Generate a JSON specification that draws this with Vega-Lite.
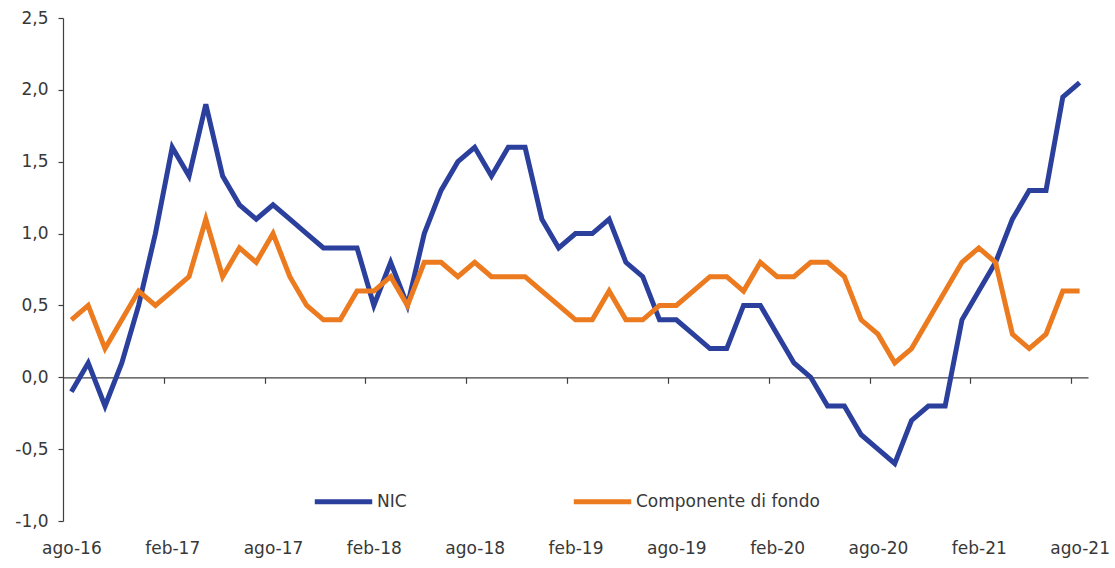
{
  "$schema": "https://vega.github.io/schema/vega-lite/v6.json",
  "width": 1025,
  "height": 503,
  "autosize": {"type": "none"},
  "padding": {"left": 63, "top": 18, "right": 27, "bottom": 47},
  "background": "white",
  "config": {
    "locale": {"number": {"decimal": ",", "thousands": ".", "grouping": [3], "currency": ["€", ""], "minus": "-"}},
    "view": {"stroke": null},
    "axis": {"labelFont": "DejaVu Sans", "labelFontSize": 17, "labelColor": "#383838", "domainColor": "#404040", "tickColor": "#404040", "domainWidth": 1.2, "tickWidth": 1.2, "grid": false, "title": null}
  },
  "data": {"values": [
    {"i": 0, "mese": "ago-16", "NIC": -0.1, "fondo": 0.4},
    {"i": 1, "mese": "set-16", "NIC": 0.1, "fondo": 0.5},
    {"i": 2, "mese": "ott-16", "NIC": -0.2, "fondo": 0.2},
    {"i": 3, "mese": "nov-16", "NIC": 0.1, "fondo": 0.4},
    {"i": 4, "mese": "dic-16", "NIC": 0.5, "fondo": 0.6},
    {"i": 5, "mese": "gen-17", "NIC": 1.0, "fondo": 0.5},
    {"i": 6, "mese": "feb-17", "NIC": 1.6, "fondo": 0.6},
    {"i": 7, "mese": "mar-17", "NIC": 1.4, "fondo": 0.7},
    {"i": 8, "mese": "apr-17", "NIC": 1.9, "fondo": 1.1},
    {"i": 9, "mese": "mag-17", "NIC": 1.4, "fondo": 0.7},
    {"i": 10, "mese": "giu-17", "NIC": 1.2, "fondo": 0.9},
    {"i": 11, "mese": "lug-17", "NIC": 1.1, "fondo": 0.8},
    {"i": 12, "mese": "ago-17", "NIC": 1.2, "fondo": 1.0},
    {"i": 13, "mese": "set-17", "NIC": 1.1, "fondo": 0.7},
    {"i": 14, "mese": "ott-17", "NIC": 1.0, "fondo": 0.5},
    {"i": 15, "mese": "nov-17", "NIC": 0.9, "fondo": 0.4},
    {"i": 16, "mese": "dic-17", "NIC": 0.9, "fondo": 0.4},
    {"i": 17, "mese": "gen-18", "NIC": 0.9, "fondo": 0.6},
    {"i": 18, "mese": "feb-18", "NIC": 0.5, "fondo": 0.6},
    {"i": 19, "mese": "mar-18", "NIC": 0.8, "fondo": 0.7},
    {"i": 20, "mese": "apr-18", "NIC": 0.5, "fondo": 0.5},
    {"i": 21, "mese": "mag-18", "NIC": 1.0, "fondo": 0.8},
    {"i": 22, "mese": "giu-18", "NIC": 1.3, "fondo": 0.8},
    {"i": 23, "mese": "lug-18", "NIC": 1.5, "fondo": 0.7},
    {"i": 24, "mese": "ago-18", "NIC": 1.6, "fondo": 0.8},
    {"i": 25, "mese": "set-18", "NIC": 1.4, "fondo": 0.7},
    {"i": 26, "mese": "ott-18", "NIC": 1.6, "fondo": 0.7},
    {"i": 27, "mese": "nov-18", "NIC": 1.6, "fondo": 0.7},
    {"i": 28, "mese": "dic-18", "NIC": 1.1, "fondo": 0.6},
    {"i": 29, "mese": "gen-19", "NIC": 0.9, "fondo": 0.5},
    {"i": 30, "mese": "feb-19", "NIC": 1.0, "fondo": 0.4},
    {"i": 31, "mese": "mar-19", "NIC": 1.0, "fondo": 0.4},
    {"i": 32, "mese": "apr-19", "NIC": 1.1, "fondo": 0.6},
    {"i": 33, "mese": "mag-19", "NIC": 0.8, "fondo": 0.4},
    {"i": 34, "mese": "giu-19", "NIC": 0.7, "fondo": 0.4},
    {"i": 35, "mese": "lug-19", "NIC": 0.4, "fondo": 0.5},
    {"i": 36, "mese": "ago-19", "NIC": 0.4, "fondo": 0.5},
    {"i": 37, "mese": "set-19", "NIC": 0.3, "fondo": 0.6},
    {"i": 38, "mese": "ott-19", "NIC": 0.2, "fondo": 0.7},
    {"i": 39, "mese": "nov-19", "NIC": 0.2, "fondo": 0.7},
    {"i": 40, "mese": "dic-19", "NIC": 0.5, "fondo": 0.6},
    {"i": 41, "mese": "gen-20", "NIC": 0.5, "fondo": 0.8},
    {"i": 42, "mese": "feb-20", "NIC": 0.3, "fondo": 0.7},
    {"i": 43, "mese": "mar-20", "NIC": 0.1, "fondo": 0.7},
    {"i": 44, "mese": "apr-20", "NIC": 0.0, "fondo": 0.8},
    {"i": 45, "mese": "mag-20", "NIC": -0.2, "fondo": 0.8},
    {"i": 46, "mese": "giu-20", "NIC": -0.2, "fondo": 0.7},
    {"i": 47, "mese": "lug-20", "NIC": -0.4, "fondo": 0.4},
    {"i": 48, "mese": "ago-20", "NIC": -0.5, "fondo": 0.3},
    {"i": 49, "mese": "set-20", "NIC": -0.6, "fondo": 0.1},
    {"i": 50, "mese": "ott-20", "NIC": -0.3, "fondo": 0.2},
    {"i": 51, "mese": "nov-20", "NIC": -0.2, "fondo": 0.4},
    {"i": 52, "mese": "dic-20", "NIC": -0.2, "fondo": 0.6},
    {"i": 53, "mese": "gen-21", "NIC": 0.4, "fondo": 0.8},
    {"i": 54, "mese": "feb-21", "NIC": 0.6, "fondo": 0.9},
    {"i": 55, "mese": "mar-21", "NIC": 0.8, "fondo": 0.8},
    {"i": 56, "mese": "apr-21", "NIC": 1.1, "fondo": 0.3},
    {"i": 57, "mese": "mag-21", "NIC": 1.3, "fondo": 0.2},
    {"i": 58, "mese": "giu-21", "NIC": 1.3, "fondo": 0.3},
    {"i": 59, "mese": "lug-21", "NIC": 1.95, "fondo": 0.6},
    {"i": 60, "mese": "ago-21", "NIC": 2.05, "fondo": 0.6}
  ]},
  "resolve": {"axis": {"x": "independent"}},
  "layer": [
    {
      "mark": {"type": "line", "strokeWidth": 5},
      "encoding": {
        "x": {"field": "i", "type": "quantitative",
          "scale": {"domain": [-0.5, 60.5], "nice": false, "zero": false},
          "axis": {"orient": "bottom", "values": [0, 6, 12, 18, 24, 30, 36, 42, 48, 54, 60],
            "labelExpr": "['ago-16','feb-17','ago-17','feb-18','ago-18','feb-19','ago-19','feb-20','ago-20','feb-21','ago-21'][round(datum.value/6)]",
            "ticks": false, "domain": false, "labelPadding": 19, "labelFlush": false, "labelOverlap": false}},
        "y": {"field": "NIC", "type": "quantitative",
          "scale": {"domain": [-1, 2.5], "nice": false, "zero": false},
          "axis": {"values": [-1, -0.5, 0, 0.5, 1, 1.5, 2, 2.5], "format": ".1f", "tickSize": 5, "labelPadding": 10, "title": null}},
        "color": {"datum": "NIC", "type": "nominal",
          "scale": {"domain": ["NIC", "Componente di fondo"], "range": ["#2B3F9C", "#EC7A1E"]},
          "legend": {"orient": "none", "legendX": 249, "legendY": 452, "direction": "horizontal", "columns": 2, "columnPadding": 156,
            "symbolType": "stroke", "symbolSize": 3300, "symbolStrokeWidth": 5, "labelFont": "DejaVu Sans", "labelFontSize": 17,
            "labelColor": "#383838", "labelOffset": 2, "labelLimit": 0, "title": null}}
      }
    },
    {
      "mark": {"type": "line", "strokeWidth": 5},
      "encoding": {
        "x": {"field": "i", "type": "quantitative",
          "axis": {"orient": "bottom", "values": [5.5, 11.5, 17.5, 23.5, 29.5, 35.5, 41.5, 47.5, 53.5, 59.5],
            "labels": false, "ticks": true, "tickSize": 6, "domain": true, "offset": -143.714}},
        "y": {"field": "fondo", "type": "quantitative",
          "axis": {"values": [-1, -0.5, 0, 0.5, 1, 1.5, 2, 2.5], "format": ".1f", "tickSize": 5, "labelPadding": 10, "title": null}},
        "color": {"datum": "Componente di fondo", "type": "nominal"}
      }
    }
  ]
}
